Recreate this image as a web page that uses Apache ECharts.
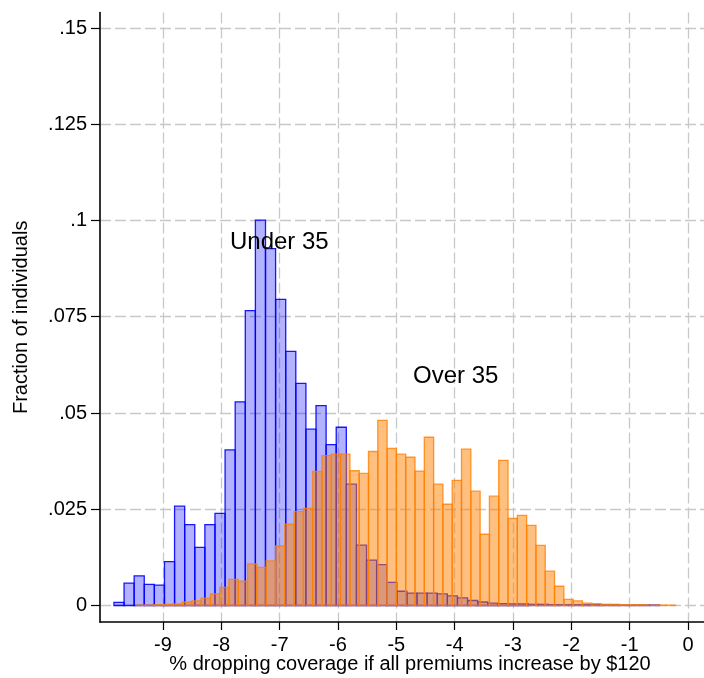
<!DOCTYPE html>
<html><head><meta charset="utf-8">
<script src="https://cdn.jsdelivr.net/npm/echarts@6/dist/echarts.min.js"></script>
<style>html,body{margin:0;padding:0;background:#fff}#c{width:704px;height:678px}</style>
</head><body><div id="c"></div>
<script>
// ---- data ----
const xTicks = [-9, -8, -7, -6, -5, -4, -3, -2, -1, 0];
const yTicks = [0, 0.025, 0.05, 0.075, 0.1, 0.125, 0.15];
const yTickLabels = ['0', '.025', '.05', '.075', '.1', '.125', '.15'];

const under35Start = -9.841;
const under35Width = 0.1732;
const under35 = [
  0.0008, 0.0058, 0.0077, 0.0055, 0.0053, 0.0114, 0.0258, 0.0210, 0.0151, 0.0210,
  0.0239, 0.0404, 0.0529, 0.0766, 0.1001, 0.0927, 0.0795, 0.0660, 0.0577, 0.0458,
  0.0519, 0.0418, 0.0463, 0.0315, 0.0157, 0.0118, 0.0106, 0.0060, 0.0037, 0.0032,
  0.0032, 0.0032, 0.0030, 0.0025, 0.0020, 0.0013, 0.0009, 0.0006, 0.0005, 0.0004,
  0.0004, 0.0003, 0.0003, 0.0002, 0.0002, 0.0002, 0.0002, 0.0002, 0.0002, 0.0002,
  0.0001, 0.0001, 0.0001, 0.0001
];

const over35Start = -9.464;
const over35Width = 0.15947;
const over35 = [
  0.0001, 0.0001, 0.0002, 0.0003, 0.0004, 0.0009, 0.0012, 0.0019, 0.0030, 0.0047,
  0.0068, 0.0063, 0.0108, 0.0099, 0.0116, 0.0155, 0.0211, 0.0244, 0.0252, 0.0348,
  0.0389, 0.0393, 0.0393, 0.0350, 0.0343, 0.0400, 0.0481, 0.0408, 0.0393, 0.0385,
  0.0349, 0.0437, 0.0315, 0.0263, 0.0325, 0.0406, 0.0297, 0.0185, 0.0284, 0.0377,
  0.0226, 0.0234, 0.0208, 0.0156, 0.0089, 0.0050, 0.0016, 0.0012, 0.0006, 0.0005,
  0.0003, 0.0003, 0.0002, 0.0002, 0.0002, 0.0001, 0.0001, 0.0001
];

const annotationTexts = ['Under 35', 'Over 35'];
const annotationAnchors = [[-7.852, 0.0944], [-4.714, 0.0594]];

// ---- build ----
function bins(start, width, vals) {
  return vals.map((v, i) => [start + i * width, start + (i + 1) * width, v]);
}
function barRenderer(fill, stroke) {
  return function (params, api) {
    const p0 = api.coord([api.value(0), api.value(2)]);
    const p1 = api.coord([api.value(1), 0]);
    return {
      type: 'rect',
      shape: { x: p0[0], y: p0[1], width: p1[0] - p0[0], height: p1[1] - p0[1] },
      style: { fill: fill, stroke: stroke, lineWidth: 1.3 }
    };
  };
}
const FONT = '"Liberation Sans", Arial, sans-serif';
const gridLine = { show: true, lineStyle: { color: '#c8c8c8', width: 1.3, type: [11, 4] } };

const chart = echarts.init(document.getElementById('c'), null, { renderer: 'canvas' });
chart.setOption({
  animation: false,
  backgroundColor: '#fff',
  grid: { left: 100, right: 0, top: 12.6, bottom: 56, containLabel: false, outerBoundsMode: 'none' },
  xAxis: {
    type: 'value', min: -10.08, max: 0.2743,
    name: '% dropping coverage if all premiums increase by $120',
    nameLocation: 'middle', nameGap: 32, nameMoveOverlap: false,
    nameTextStyle: { fontFamily: FONT, fontSize: 20, color: '#000', padding: [0, 0, 0, 16] },
    axisLine: { show: true, onZero: false, lineStyle: { color: '#000', width: 1.6 } },
    axisTick: { show: true, length: 8, customValues: xTicks, lineStyle: { color: '#000', width: 1.2 } },
    axisLabel: { customValues: xTicks, margin: 13, fontFamily: FONT, fontSize: 20, color: '#000' },
    splitLine: gridLine
  },
  yAxis: {
    type: 'value', min: -0.00429, max: 0.154,
    name: 'Fraction of individuals',
    nameLocation: 'middle', nameGap: 69, nameRotate: 90, nameMoveOverlap: false,
    nameTextStyle: { fontFamily: FONT, fontSize: 20, color: '#000' },
    axisLine: { show: true, onZero: false, lineStyle: { color: '#000', width: 1.6 } },
    axisTick: { show: true, length: 9, customValues: yTicks, lineStyle: { color: '#000', width: 1.2 } },
    axisLabel: {
      customValues: yTicks, margin: 13, fontFamily: FONT, fontSize: 20, color: '#000',
      formatter: function (v) {
        const i = yTicks.findIndex(t => Math.abs(t - v) < 1e-9);
        return i >= 0 ? yTickLabels[i] : '';
      }
    },
    splitLine: gridLine
  },
  series: [
    {
      type: 'custom', name: 'Under 35', data: bins(under35Start, under35Width, under35),
      renderItem: barRenderer('rgba(0,0,255,0.3)', 'rgba(0,0,255,0.9)'),
      encode: { x: [0, 1], y: 2 }, z: 2
    },
    {
      type: 'custom', name: 'Over 35', data: bins(over35Start, over35Width, over35),
      renderItem: barRenderer('rgba(255,127,0,0.5)', 'rgba(255,127,0,0.8)'),
      encode: { x: [0, 1], y: 2 }, z: 3
    },
    {
      type: 'custom', name: 'labels',
      data: annotationAnchors.map((a, i) => [a[0], a[1], i]),
      renderItem: function (params, api) {
        const p = api.coord([api.value(0), api.value(1)]);
        return {
          type: 'text', x: p[0], y: p[1],
          style: { text: annotationTexts[api.value(2)], fill: '#000', font: '24px ' + FONT, align: 'left', verticalAlign: 'middle' }
        };
      },
      encode: { x: 0, y: 1 }, z: 5
    }
  ]
});
</script></body></html>
